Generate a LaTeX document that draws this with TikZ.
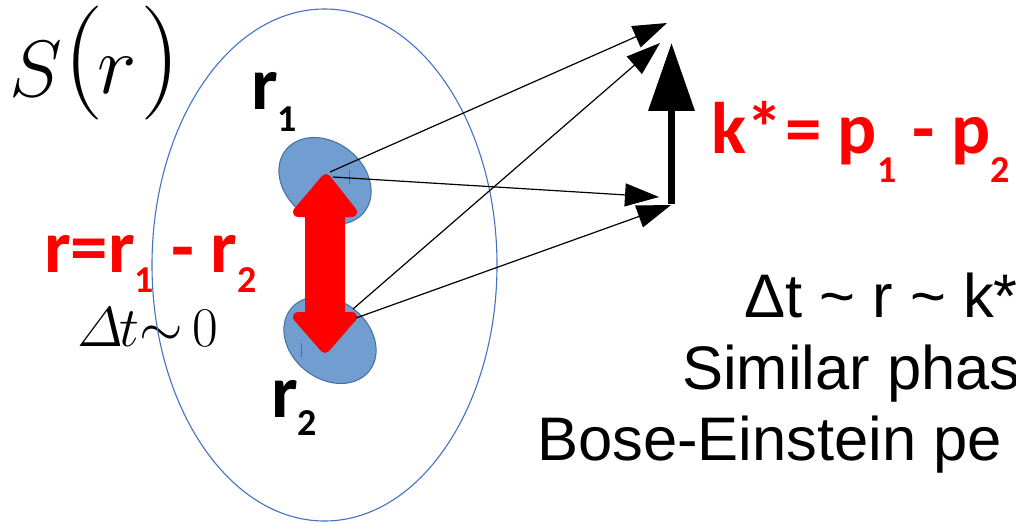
\RequirePackage{fix-cm}
\documentclass[tikz,border=0pt]{standalone}
\usepackage{fontspec}
\newfontfamily\calibri{Carlito}
\newfontfamily\arialf{Liberation Sans}
\usetikzlibrary{arrows.meta,shapes.geometric}
\definecolor{bigblue}{RGB}{68,114,196}
\definecolor{blobfill}{RGB}{114,157,208}
\definecolor{blobdraw}{RGB}{65,113,156}
\definecolor{tickred}{RGB}{200,60,80}
\newcommand\lowsub[2]{\raisebox{-#1pt}[\height][0pt]{\fontsize{38}{38}\selectfont #2}}
\tikzset{
  cal/.style={font=\calibri\bfseries, inner sep=0pt, anchor=base west},
  plain/.style={inner sep=0pt, anchor=base west},
  rtext/.style={font=\arialf\fontsize{61.5}{61.5}\selectfont, inner sep=0pt, anchor=base west},
  blob/.style={ellipse, fill=blobfill, draw=blobdraw, line width=1pt, minimum width=100pt, minimum height=78pt, inner sep=0pt, rotate=-38},
  thinarrow/.style={draw=black, line width=1.2pt, -{Triangle[length=34pt,width=23pt]}},
  karrow/.style={draw=black, line width=7pt, -{Triangle[length=68pt,width=45pt]}},
}
\begin{document}
\begin{tikzpicture}[x=1pt,y=-1pt]
\useasboundingbox (0,0) rectangle (1016,524);
\clip (0,0) rectangle (1016,524);
\fill[white] (0,0) rectangle (1016,524);

% S(r)
\node[plain] (S) at (9,96) {\fontsize{80}{80}\selectfont$S$};
\node[plain] (lp) at (63,92) {\fontsize{114}{114}\selectfont(};
\node[plain] (rr) at (97,94) {\fontsize{84}{84}\selectfont$r$};
\node[plain] (rp) at (140,92) {\fontsize{114}{114}\selectfont)};

% left texts
\node[cal, text=red] (rdef) at (44,272) {\fontsize{75}{75}\selectfont r=r\lowsub{20}{1} - r\lowsub{20}{2}};
\node[plain] (dt) at (77,346) {\fontsize{56}{56}\selectfont$\mathchar"0101\mkern-1mu t{\sim}\mkern3mu 0$};

% big source ellipse
\node[ellipse, draw=bigblue, line width=1.1pt, minimum width=345pt, minimum height=512pt, inner sep=0pt] (src) at (324.5,265) {};

% particle labels
\node[cal] (r1) at (251,110) {\fontsize{75}{75}\selectfont r\lowsub{22}{1}};
\node[cal] (r2) at (271,417) {\fontsize{75}{75}\selectfont r\lowsub{18}{2}};

% emission regions
\node[blob] (e1) at (325,181) {};
\node[blob] (e2) at (330,340) {};
\draw[tickred, line width=1pt] (349,170) -- (349,184);
\draw[tickred, line width=1pt] (301,343) -- (301,357);

% red double arrow r = r1 - r2
\filldraw[red, line width=10pt, line join=round]
  (326,179) -- (352,212) -- (340,212) -- (340,317) -- (352,317) -- (325,348)
  -- (298,317) -- (310,317) -- (310,212) -- (298,212) -- cycle;

% emitted momenta
\coordinate (s1) at (330,172);
\coordinate (s3) at (333,177);
\coordinate (s2) at (353,309);
\coordinate (s4) at (356,318);
\coordinate (t1) at (667,23);
\coordinate (t2) at (660,43);
\coordinate (t3) at (659,197);
\coordinate (t4) at (671,205);
\draw[thinarrow] (s1) -- (t1);
\draw[thinarrow] (s2) -- (t2);
\draw[thinarrow] (s3) -- (t3);
\draw[thinarrow] (s4) -- (t4);

% k* arrow
\coordinate (kb) at (671.5,204);
\coordinate (kt) at (671.5,43);
\draw[karrow] (kb) -- (kt);
\node[cal, text=red] (keq) at (711,153) {\fontsize{73}{73}\selectfont k*\kern-14pt{} = p\lowsub{29}{1} - p\lowsub{29}{2}};

% right texts
\node[rtext] (l1) at (744,317) {Δt \textasciitilde{} r \textasciitilde{} k*};
\node[rtext] (l2) at (682,389) {Similar phas};
\node[rtext] (l3) at (537,460) {Bose-Einstein pe};
\end{tikzpicture}
\end{document}
